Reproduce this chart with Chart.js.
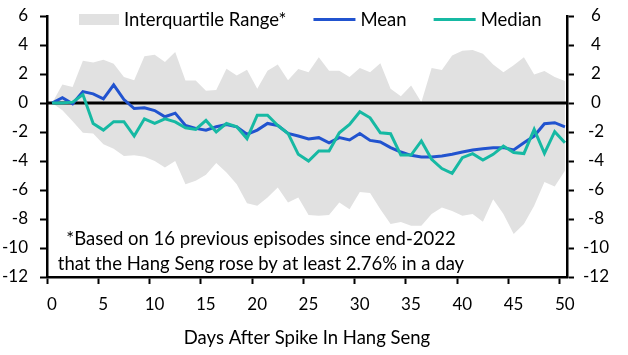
<!DOCTYPE html>
<html>
<head>
<meta charset="utf-8">
<script src="https://cdn.jsdelivr.net/npm/chart.js@4.4.1/dist/chart.umd.min.js"></script>
<style>
html,body{margin:0;padding:0;background:#fff;}
#wrap{width:628px;height:355px;position:relative;}
canvas{display:block;}
</style>
</head>
<body>
<div id="wrap"><canvas id="c" width="628" height="355" style="width:628px;height:355px"></canvas></div>
<script>
// ---- data ----
const days = [0,1,2,3,4,5,6,7,8,9,10,11,12,13,14,15,16,17,18,19,20,21,22,23,24,25,26,27,28,29,30,31,32,33,34,35,36,37,38,39,40,41,42,43,44,45,46,47,48,49,50];
const meanVals = [0,0.36,-0.05,0.79,0.63,0.29,1.25,0.24,-0.38,-0.33,-0.52,-0.95,-0.7,
  -1.55,-1.75,-1.87,-1.64,-1.48,-1.64,-2.16,-1.87,-1.41,-1.55,-2.1,-2.28,-2.48,
  -2.39,-2.74,-2.39,-2.55,-2.1,-2.58,-2.69,-3.08,-3.38,-3.61,-3.72,-3.72,-3.65,
  -3.54,-3.38,-3.24,-3.15,-3.08,-3.08,-3.24,-2.74,-2.28,-1.43,-1.36,-1.64];
const medianVals = [0,0,0.06,0.58,-1.41,-1.87,-1.29,-1.29,-2.28,-1.09,-1.41,-1.09,-1.3,
  -1.71,-1.82,-1.2,-2.0,-1.41,-1.64,-2.46,-0.84,-0.84,-1.55,-2.1,-3.54,-4.0,
  -3.31,-3.31,-2.05,-1.48,-0.6,-1.02,-2.05,-2.12,-3.59,-3.59,-2.62,-3.88,-4.52,
  -4.85,-3.77,-3.49,-3.93,-3.54,-2.97,-3.42,-3.49,-1.82,-3.47,-1.98,-2.74];
const iqrUpper = [0,1.27,1.11,2.92,2.8,2.99,2.71,1.8,1.57,3.22,3.33,2.83,3.52,1.55,1.55,0.85,0.9,
  2.37,1.89,2.3,0.98,2.23,2.65,1.57,2.35,2.12,3.15,2.23,2.23,1.8,2.42,2.12,2.75,
  0.98,0.47,1.2,0.05,2.42,2.27,3.28,3.6,3.66,3.4,2.65,2.12,2.6,3.16,1.96,2.2,1.8,1.52];
const iqrLower = [0,-0.5,-1.25,-2.05,-2.1,-2.85,-3.15,-3.65,-3.61,-3.7,-4.0,-4.45,-4.0,-5.6,-5.37,-4.95,-4.13,
  -4.8,-5.6,-6.91,-7.09,-6.52,-5.83,-6.86,-6.52,-7.73,-7.78,-7.73,-6.86,-7.32,-6.13,-6.2,-7.32,
  -8.35,-8.2,-8.47,-8.47,-7.66,-7.2,-7.44,-7.78,-7.66,-8.19,-6.63,-7.66,-9.04,-8.35,-7.09,-5.44,-5.76,-4.68];
const xTickLabels = [0,5,10,15,20,25,30,35,40,45,50];
const yTickValues = [6,4,2,0,-2,-4,-6,-8,-10,-12];
const seriesNames = ['Interquartile Range*','Mean','Median'];
const xTitle = 'Days After Spike In Hang Seng';
const noteLines = ['*Based on 16 previous episodes since end-2022','that the Hang Seng rose by at least 2.76% in a day'];

// ---- styles ----
const FONT = 'Lato';
const C_IQR = '#E1E1E1', C_MEAN = '#2153CF', C_MED = '#16B9A3';
const TXT = 18.5, TICK = 17;

const toXY = arr => arr.map((v,i)=>({x:days[i], y:v}));

const zeroLinePlugin = {
  id:'zeroLine',
  beforeDatasetDraw(chart, args){
    if (args.index !== 1) return;
    const ctx = chart.ctx, ca = chart.chartArea;
    const y = chart.scales.y.getPixelForValue(0);
    ctx.save();
    ctx.strokeStyle = '#000'; ctx.lineWidth = 2.8;
    ctx.beginPath(); ctx.moveTo(ca.left, y); ctx.lineTo(ca.right, y); ctx.stroke();
    ctx.restore();
  }
};

const legendPlugin = {
  id:'customLegend',
  afterDatasetsDraw(chart){
    const ctx = chart.ctx;
    const ds = chart.data.datasets;
    ctx.save();
    ctx.font = TXT + 'px ' + FONT;
    ctx.textBaseline = 'alphabetic';
    let x = 79; const yMid = 19.5, base = 25.5;
    [0,1,2].forEach(i => {
      const d = ds[i];
      if (i === 0) {
        ctx.fillStyle = d.backgroundColor;
        ctx.fillRect(x, yMid - 5.5, 40, 11);
        x += 40;
      } else {
        ctx.strokeStyle = d.borderColor; ctx.lineWidth = 3;
        ctx.beginPath(); ctx.moveTo(x, yMid); ctx.lineTo(x + 42, yMid); ctx.stroke();
        x += 42;
      }
      x += 5;
      ctx.fillStyle = '#000';
      ctx.fillText(d.label, x, base);
      x += ctx.measureText(d.label).width + 27;
    });
    ctx.restore();
  }
};

const notePlugin = {
  id:'note',
  afterDraw(chart){
    const ctx = chart.ctx;
    ctx.save();
    ctx.font = TXT + 'px ' + FONT;
    ctx.fillStyle = '#000';
    ctx.textAlign = 'center';
    ctx.textBaseline = 'alphabetic';
    ctx.fillText(noteLines[0], 261, 245);
    ctx.fillText(noteLines[1], 261, 270);
    ctx.restore();
  }
};

const tickFont = {family: FONT, size: TICK};
const noVPad = (w) => s => { s.width = w; s.paddingTop = 0; s.paddingBottom = 0; };

new Chart(document.getElementById('c'), {
  type: 'line',
  data: {
    datasets: [
      { label: seriesNames[0], data: toXY(iqrUpper), backgroundColor: C_IQR, borderColor: 'rgba(0,0,0,0)', borderWidth: 0, pointRadius: 0, fill: 3, order: 10, tension: 0 },
      { label: seriesNames[1], data: toXY(meanVals), borderColor: C_MEAN, backgroundColor: C_MEAN, borderWidth: 3, pointRadius: 0, fill: false, order: 2, tension: 0 },
      { label: seriesNames[2], data: toXY(medianVals), borderColor: C_MED, backgroundColor: C_MED, borderWidth: 3, pointRadius: 0, fill: false, order: 1, tension: 0 },
      { label: 'lower', data: toXY(iqrLower), borderColor: 'rgba(0,0,0,0)', backgroundColor: 'rgba(0,0,0,0)', borderWidth: 0, pointRadius: 0, fill: false, order: 10, tension: 0 }
    ]
  },
  options: {
    responsive: false,
    animation: false,
    devicePixelRatio: 1,
    layout: { padding: { top: 16, left: 0, right: 0, bottom: 0 } },
    plugins: { legend: { display: false }, tooltip: { enabled: false } },
    scales: {
      x: {
        type: 'linear', min: -0.5, max: 50.2,
        afterBuildTicks: s => { s.ticks = xTickLabels.map(v => ({value: v - 0.5})); },
        ticks: { callback: v => String(Math.round(v + 0.5)), labelOffset: 5, autoSkip: false, maxRotation: 0, padding: 10, color: '#000', font: tickFont },
        grid: { drawOnChartArea: false, drawTicks: true, tickLength: 7, tickColor: '#000', tickWidth: 2 },
        border: { display: true, color: '#000', width: 2.5 },
        title: { display: true, text: xTitle, color: '#000', font: {family: FONT, size: TXT}, padding: { top: 4, bottom: 6 } },
        afterFit: s => { s.height = 78; }
      },
      y: {
        position: 'left', min: -12, max: 6,
        afterBuildTicks: s => { s.ticks = yTickValues.map(v => ({value: v})); },
        ticks: { color: '#000', font: tickFont, padding: 12 },
        grid: { drawOnChartArea: false, tickLength: 7, tickColor: '#000', tickWidth: 2 },
        border: { display: true, color: '#000', width: 2.5 },
        afterFit: noVPad(47)
      },
      y2: {
        position: 'right', min: -12, max: 6,
        afterBuildTicks: s => { s.ticks = yTickValues.map(v => ({value: v})); },
        ticks: { color: '#000', font: tickFont, padding: 9, crossAlign: 'center' },
        grid: { drawOnChartArea: false, tickLength: 7, tickColor: '#000', tickWidth: 2 },
        border: { display: true, color: '#000', width: 2.5 },
        afterFit: noVPad(61)
      }
    }
  },
  plugins: [zeroLinePlugin, legendPlugin, notePlugin]
});
</script>
</body>
</html>
